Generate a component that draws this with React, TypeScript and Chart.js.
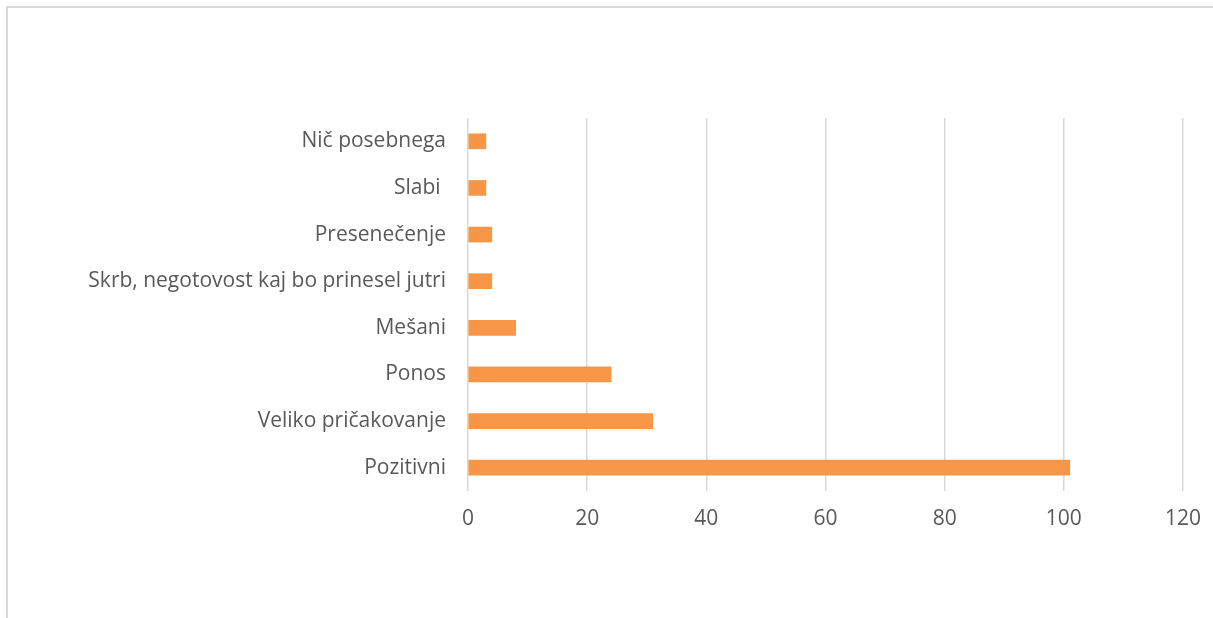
import React, { useEffect, useRef } from "react";
import { Chart, registerables } from "chart.js";

Chart.register(...registerables);

const categories: string[] = [
  "Nič posebnega",
  "Slabi ",
  "Presenečenje",
  "Skrb, negotovost kaj bo prinesel jutri",
  "Mešani",
  "Ponos",
  "Veliko pričakovanje",
  "Pozitivni",
];
const values: number[] = [3, 3, 4, 4, 8, 24, 31, 101];
const xMin = 0;
const xMax = 120;
const xStep = 20;

export default function App() {
  const ref = useRef<HTMLCanvasElement | null>(null);

  useEffect(() => {
    document.body.style.margin = "0";
    const canvas = ref.current;
    if (!canvas) return;
    const chart = new Chart(canvas, {
      type: "bar",
      data: {
        labels: categories,
        datasets: [
          {
            data: values,
            backgroundColor: "#F79646",
            borderWidth: 0,
            barThickness: 15,
          },
        ],
      },
      options: {
        indexAxis: "y",
        animation: false,
        responsive: false,
        maintainAspectRatio: false,
        layout: { padding: { top: 118, right: 30, bottom: 0, left: 0 } },
        plugins: {
          legend: { display: false },
          tooltip: { enabled: false },
          title: { display: false },
        },
        scales: {
          x: {
            min: xMin,
            max: xMax,
            ticks: {
              stepSize: xStep,
              color: "#595959",
              font: { family: "'Open Sans', sans-serif", size: 21 },
              padding: 15,
            },
            grid: { color: "#d9d9d9", lineWidth: 1.5, drawTicks: false },
            border: { display: false },
            afterFit: (s: any) => {
              s.height = 127;
              s.paddingLeft = 0;
              s.paddingRight = 0;
            },
          },
          y: {
            ticks: {
              color: "#595959",
              font: { family: "'Open Sans', sans-serif", size: 21 },
              padding: 22,
            },
            grid: { display: false, drawTicks: false },
            border: { display: false },
            afterFit: (s: any) => {
              s.width = 468;
              s.paddingTop = 0;
              s.paddingBottom = 0;
            },
          },
        },
      },
    });
    return () => chart.destroy();
  }, []);

  return (
    <div style={{ position: "relative", width: 1213, height: 618, background: "#fff" }}>
      <canvas ref={ref} width={1213} height={618} style={{ position: "absolute", left: 0, top: 0 }} />
      <div
        style={{
          position: "absolute",
          left: 6,
          top: 6,
          width: 1213,
          height: 618,
          borderLeft: "2px solid #d9d9d9",
          borderTop: "2px solid #d9d9d9",
          pointerEvents: "none",
        }}
      />
    </div>
  );
}
